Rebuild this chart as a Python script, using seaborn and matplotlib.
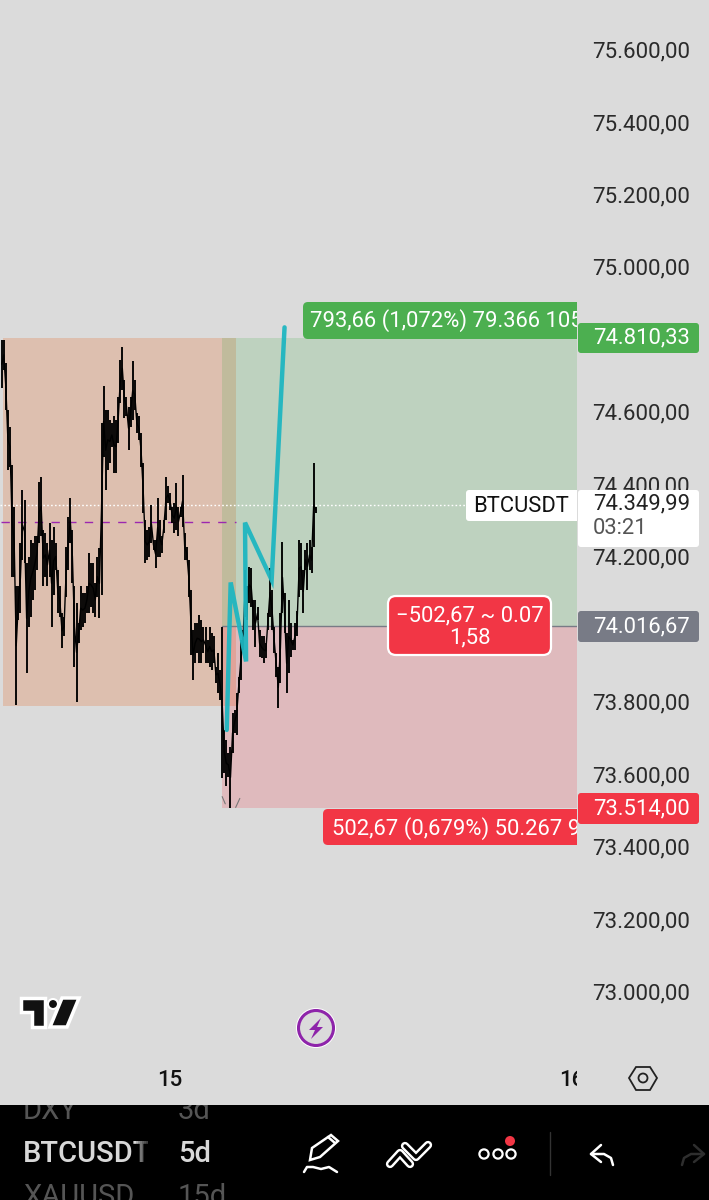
import matplotlib
matplotlib.use("Agg")
import matplotlib.pyplot as plt
import seaborn as sns
import pandas as pd
from matplotlib.patches import Rectangle, FancyBboxPatch, Circle, Polygon
from matplotlib.transforms import Bbox, TransformedBbox, ScaledTranslation

# ---------- data ----------
highs = [74805,74805,74741,74612,74566,74460,74345,74125,74125,74244,74391,74364,74189,74207,74253,74244,74263,74263,74414,74428,
         74281,74272,74244,74299,74253,74290,74244,74171,74125,74051,74042,74235,74318,74368,74281,74125,74079,74023,74125,74106,
         74106,74125,74217,74189,74189,74134,74207,74230,74575,74677,74612,74612,74585,74575,74594,74585,74649,74750,74787,74695,
         74649,74621,74649,74746,74695,74603,74594,74548,74465,74309,74281,74290,74350,74253,74253,74368,74309,74263,74309,74428,
         74401,74382,74345,74355,74410,74345,74345,74433,74272,74235,74198,74115,74005,74023,74023,74046,74033,74014,74014,73977,
         74014,73996,73987,73904,73941,73895,74014,73729,73701,73665,73683,73775,73784,73830,73876,73977,74005,74171,74125,74180,
         74175,74088,74088,74069,74005,73987,73987,73968,74051,74175,74115,74014,73941,73904,74051,74249,74106,73996,74088,74023,
         73977,74023,74056,74253,74244,74171,74226,74244,74253,74235,74465,74345]
lows = [74672,74723,74612,74447,74456,74152,74152,73798,74033,74051,74198,74189,73885,74014,74042,74088,74115,74171,74244,74263,
        74125,74152,74125,74152,74014,74102,74171,74051,74042,73954,73987,74097,74171,74244,74134,73904,73807,73968,74005,74014,
        74023,74051,74051,74069,74051,74042,74097,74037,74100,74483,74391,74447,74465,74511,74437,74437,74520,74631,74667,74589,
        74594,74502,74566,74585,74612,74548,74529,74456,74327,74189,74198,74207,74244,74226,74175,74207,74207,74217,74272,74309,
        74355,74336,74299,74272,74281,74263,74318,74290,74198,74198,74097,73936,73867,73913,73941,73913,73913,73941,73913,73913,
        73904,73895,73913,73858,73830,73812,73596,73609,73573,73600,73513,73665,73720,73715,73830,73867,73950,74042,74033,74079,
        74069,74005,73959,74033,73931,73927,73913,73927,74005,74042,74005,73941,73876,73789,73858,74051,73996,73830,73885,73931,
        73950,73950,73987,74097,74115,74051,74171,74115,74171,74161,74235,74327]
drawn_bar = [108.2, 110.1, 117.5, 117.0, 129.8, 136.0]
drawn_price = [73729, 74136, 73918, 74301, 74143, 74840]
price_ticks = [73000, 73200, 73400, 73600, 73800, 74200, 74400, 74600, 75000, 75200, 75400, 75600]
day_ticks = [81, 274]
day_labels = ["15", "16"]
take_profit, entry, stop, last_price = 74810.33, 74016.67, 73514.00, 74349.99
range_top, range_bottom, range_mid = 74810.33, 73795, 74304
range_start, range_end, trade_start = 0.6, 112.7, 105.9

BG = "#DBDBDB"
GREEN, RED, GREY, ORANGE = "#4CAF50", "#F23645", "#787B86", "#E65100"
W, H = 709, 1200
FS = 16
LS = 15.8

sns.set_theme(style="white")
plt.rcParams["font.family"] = ["Roboto", "DejaVu Sans"]

def fmt(p):
    return f"{p:,.2f}".replace(",", "#").replace(".", ",").replace("#", ".")

fig = plt.figure(figsize=(W / 100, H / 100), dpi=100, facecolor=BG)
ax = fig.add_axes([0, (H - 1060) / H, 577 / W, 1060 / H], facecolor=BG)
xmax = 276.6
ax.set_xlim(-0.8, xmax)
ax.set_ylim(72818, 75743.5)

# zones
ax.add_patch(Rectangle((range_start, range_bottom), range_end - range_start, range_top - range_bottom, fc=ORANGE, alpha=.2, lw=0))
ax.add_patch(Rectangle((trade_start, entry), xmax - trade_start, take_profit - entry, fc=GREEN, alpha=.2, lw=0))
ax.add_patch(Rectangle((trade_start, stop), xmax - trade_start, entry - stop, fc=RED, alpha=.2, lw=0))
ax.plot([trade_start, xmax], [entry, entry], color=GREY, lw=1)

# lines
ax.plot([range_start - 1, range_end], [range_mid, range_mid], color="#9C27B0", lw=1, dashes=(6, 6))
ax.axhline(last_price, color="white", lw=1, dashes=(1.2, 1.6))

# candles
bars = pd.DataFrame({"bar": range(len(highs)), "high": highs, "low": lows})
bars["mid"] = (bars["high"] + bars["low"]) / 2
ax.vlines(bars["bar"], bars["low"], bars["high"], color="black", lw=1.35, zorder=3)
ax.plot(bars["bar"], bars["mid"], color="black", lw=1.0, zorder=3)
ax.plot([106, 107.5], [73545, 73525], color="#777", lw=.8, zorder=2)
ax.plot([112.5, 114.5], [73515, 73540], color="#777", lw=.8, zorder=2)

drawn = pd.DataFrame({"bar": drawn_bar, "price": drawn_price})
sns.lineplot(data=drawn, x="bar", y="price", sort=False, estimator=None, color="#1FB6C1", lw=3.2,
             ax=ax, zorder=4, solid_joinstyle="miter", alpha=.95)

# axes
ax.yaxis.tick_right()
ax.set_yticks(price_ticks, [fmt(p) for p in price_ticks])
ax.set_xticks(day_ticks, day_labels)
ax.tick_params(axis="y", length=0, pad=10.6, labelsize=FS, labelcolor="#2a2a2a")
ax.tick_params(axis="x", length=0, pad=7, labelsize=FS, labelcolor="#111")
for t in ax.get_xticklabels():
    t.set_fontweight("medium")
ax.set_xlabel(""); ax.set_ylabel("")
sns.despine(ax=ax, left=True, bottom=True, right=True, top=True)
up = ScaledTranslation(0, 2.5 / 100, fig.dpi_scale_trans)
for t in ax.get_yticklabels():
    t.set_transform(t.get_transform() + up)

# overlay in pixels
ov = fig.add_axes([0, 0, 1, 1], facecolor="none")
ov.set_xlim(0, W); ov.set_ylim(H, 0); ov.axis("off")

def clip(t, x0=0, y0=0, x1=W, y1=H):
    t.set_clip_on(True)
    t.set_clip_box(TransformedBbox(Bbox([[x0, y0], [x1, y1]]), ov.transData))
    return t

# tick label half hidden behind the last-price box
for t in ax.get_yticklabels():
    if t.get_text() == fmt(74400):
        clip(t, y1=490)

def box(x0, y0, x1, y1, color, r=4, z=5, ec="none", lw=0):
    p = FancyBboxPatch((x0 + r, y0 + r), x1 - x0 - 2 * r, y1 - y0 - 2 * r, boxstyle=f"round,pad={r},rounding_size={r}",
                       fc=color, ec=ec, lw=lw, zorder=z)
    ov.add_patch(p)
    return p

def tag(y0, y1, color, text, tcolor="white", dy=0):
    box(578, y0, 699, y1, color, r=3, z=6)
    ov.text(593, (y0 + y1) / 2 + dy, text, color=tcolor, fontsize=LS, va="center", ha="left", zorder=7)

# hide the part of "16" beyond pane
ov.add_patch(Rectangle((577, 1062), 50, 35, fc=BG, lw=0, zorder=2))

# green label
clip(box(303, 302, 600, 339, GREEN, r=5), x1=577)
clip(ov.text(310, 321, "793,66 (1,072%) 79.366 105", color="white", fontsize=LS, va="center", zorder=6), x1=577)
tag(323, 353, GREEN, fmt(take_profit))

# last price labels
clip(box(466, 490, 600, 521, "white", r=3), x1=577)
ov.text(473, 507, "BTCUSDT", color="#111", fontsize=LS, va="center", zorder=6)
box(578, 490, 699, 547, "white", r=3, z=6)
ov.text(593, 504, fmt(last_price), color="#222", fontsize=LS, va="center", zorder=7)
ov.text(593, 529, "03:21", color="#555", fontsize=LS, va="center", zorder=7)

tag(611, 642, GREY, fmt(entry))

# centre red label
box(388, 596, 551, 655, RED, r=8, ec="white", lw=1.6)
ov.text(469.5, 616, "−502,67 ~ 0.07", color="white", fontsize=LS, va="center", ha="center", zorder=6)
ov.text(469.5, 638, "1,58", color="white", fontsize=LS, va="center", ha="center", zorder=6)

# bottom red label
clip(box(323, 809, 600, 845, RED, r=5), x1=577)
clip(ov.text(332, 829, "502,67 (0,679%) 50.267 9", color="white", fontsize=LS, va="center", zorder=6), x1=577)
tag(793, 824, RED, fmt(stop))

# logo
for pts in ([(21, 998), (45, 998), (45, 1027), (32, 1027), (32, 1012), (21, 1012)],
            [(62, 998), (79, 998), (67, 1027), (50, 1027)]):
    ov.add_patch(Polygon(pts, closed=True, fc="#111", ec="white", lw=2.5, zorder=3))
ov.add_patch(Circle((53, 1004), 5, fc="#111", ec="white", lw=1.5, zorder=3))

# bolt button
ov.add_patch(Circle((316, 1028), 20, fc="white", lw=0, zorder=3))
ov.add_patch(Circle((316, 1028), 17.5, fc=BG, ec="#8E24AA", lw=2.2, zorder=4))
ov.add_patch(Polygon([(321, 1018), (309, 1030), (315, 1030), (311, 1039), (323, 1027), (317, 1027)], closed=True, fc="#8E24AA", lw=0, zorder=5))

# settings hexagon
ov.add_patch(Polygon([(629, 1078), (636, 1067), (650, 1067), (657, 1078), (650, 1090), (636, 1090)], closed=True, fc="none", ec="#222", lw=1.3, zorder=3))
ov.add_patch(Circle((643, 1078), 4.5, fc="none", ec="#222", lw=1.3, zorder=3))

# bottom bar
ov.add_patch(Rectangle((0, 1105), W, 95, fc="black", lw=0, zorder=8))
kw = dict(va="center", zorder=9)
clip(ov.text(23, 1111, "DXY", color="#555", fontsize=21, **kw), y0=1105)
clip(ov.text(178, 1111, "3d", color="#555", fontsize=21, **kw), y0=1105)
clip(ov.text(23, 1154, "BTCUSDT", color="#D8D8D8", fontsize=21, fontweight="medium", **kw), x1=148)
ov.text(178, 1154, "5d", color="#D8D8D8", fontsize=21, fontweight="medium", **kw)
clip(ov.text(23, 1197, "XAUUSD", color="#555", fontsize=21, **kw), x1=148)
ov.text(178, 1197, "15d", color="#555", fontsize=21, **kw)
for i in range(6):
    ov.add_patch(Rectangle((136 + 2 * i, 1130), 14 - 2 * i, 50, fc="black", alpha=.18, lw=0, zorder=10))

white = dict(color="white", lw=1.8, zorder=9, solid_capstyle="round", solid_joinstyle="round")
ov.add_patch(Polygon([(310, 1160), (312, 1148), (331, 1135), (338, 1141), (320, 1157)], closed=True, fc="none", ec="white", lw=1.8, zorder=9))
ov.plot([328, 335], [1137, 1143], **white)
ov.plot([304, 307, 313, 321, 329, 337], [1172, 1167, 1167, 1169, 1167, 1172], **white)
for xs, ys in (([390, 400, 410], [1164, 1153, 1164]), ([405, 416, 428], [1146, 1157, 1145])):
    ov.plot(xs, ys, color="white", lw=6, zorder=9, solid_capstyle="round")
    ov.plot(xs, ys, color="black", lw=2.5, zorder=9, solid_capstyle="round")
for cx in (484, 498, 511):
    ov.add_patch(Circle((cx, 1154), 4.6, fc="black", ec="white", lw=1.6, zorder=9))
ov.add_patch(Circle((510, 1141), 5, fc=RED, lw=0, zorder=10))
ov.plot([550, 550], [1132, 1175], color="#333", lw=1, zorder=9)
ov.plot([601, 591, 601], [1145, 1154, 1162], **white)
ov.plot([591, 604, 611, 613], [1154, 1154, 1158, 1165], **white)
dim = dict(white, color="#2E2E2E")
ov.plot([694, 704, 694], [1145, 1154, 1162], **dim)
ov.plot([704, 691, 684, 682], [1154, 1154, 1158, 1165], **dim)

fig.savefig("out.png", dpi=100, facecolor=BG)
